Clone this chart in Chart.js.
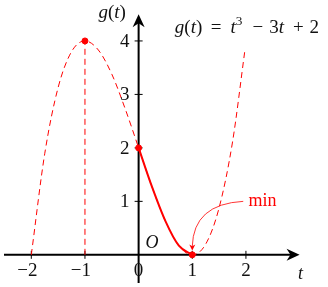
<!DOCTYPE html>
<html lang="en">
<head>
  <meta charset="UTF-8" />
  <title>g(t) = t^3 - 3t + 2</title>
  <script src="https://cdn.jsdelivr.net/npm/chart.js"></script>
  <style>
    html, body { margin: 0; padding: 0; background: #fff; }
    #wrap { width: 328px; height: 287px; }
  </style>
</head>
<body>
<div id="wrap"><canvas id="chart"></canvas></div>
<script>
  // curve samples (dashed part)
  const curveT = [-2, -1.75, -1.5, -1.25, -1, -0.75, -0.5, -0.25, 0, 0.25, 0.5, 0.75, 1, 1.25, 1.5, 1.75, 1.98];
  const curveG = [0, 1.89, 3.13, 3.8, 4, 3.83, 3.38, 2.73, 2, 1.27, 0.63, 0.17, 0, 0.2, 0.88, 2.11, 3.82];
  // solid part on [0, 1]
  const solidT = [0, 0.25, 0.5, 0.75, 1];
  const solidG = [2, 1.27, 0.63, 0.17, 0];
  // marked points
  const markT = [-1, 0, 1];
  const markG = [4, 2, 0];
  // dashed drop line at t = -1
  const dropT = [-1, -1];
  const dropG = [0, 4];
  // ticks
  const xTicks = [-2, -1, 0, 1, 2];
  const xTickLabels = ['\u22122', '\u22121', '0', '1', '2'];
  const yTicks = [1, 2, 3, 4];
  const yTickLabels = ['1', '2', '3', '4'];

  const red = '#ff0000';
  const serif = '"Liberation Serif", "DejaVu Serif", serif';

  const toPts = (xs, ys) => xs.map((x, i) => ({ x: x, y: ys[i] }));

  function richText(ctx, parts, x, y, size) {
    // draws a run of text pieces left to right, returns end x
    let cx = x;
    parts.forEach(p => {
      const s = p.sup ? size * 0.7 : size;
      ctx.font = (p.i ? 'italic ' : '') + s + 'px ' + serif;
      ctx.fillText(p.t, cx, p.sup ? y - size * 0.4 : y);
      cx += ctx.measureText(p.t).width + (p.gap || 0);
    });
    return cx;
  }

  function arrowHead(ctx, x, y, dir, len, half) {
    // dir in radians, stealth-like arrow
    ctx.save();
    ctx.translate(x, y);
    ctx.rotate(dir);
    ctx.beginPath();
    ctx.moveTo(0, 0);
    ctx.lineTo(-len, -half);
    ctx.lineTo(-len * 0.7, 0);
    ctx.lineTo(-len, half);
    ctx.closePath();
    ctx.fill();
    ctx.restore();
  }

  const axesPlugin = {
    id: 'axes',
    beforeDatasetsDraw(chart) {
      const ctx = chart.ctx;
      const xs = chart.scales.x, ys = chart.scales.y;
      const x0 = xs.getPixelForValue(0), y0 = ys.getPixelForValue(0);
      ctx.save();
      ctx.strokeStyle = '#000';
      ctx.fillStyle = '#000';
      ctx.lineWidth = 2;
      // x axis
      const xEnd = xs.getPixelForValue(3.0);
      ctx.beginPath();
      ctx.moveTo(xs.getPixelForValue(xs.min), y0);
      ctx.lineTo(xEnd - 4, y0);
      ctx.stroke();
      arrowHead(ctx, xEnd, y0, 0, 13, 6);
      // y axis
      const yEnd = ys.getPixelForValue(4.5);
      ctx.beginPath();
      ctx.moveTo(x0, ys.getPixelForValue(ys.min));
      ctx.lineTo(x0, yEnd + 4);
      ctx.stroke();
      arrowHead(ctx, x0, yEnd, -Math.PI / 2, 13, 6);
      // tick marks
      ctx.lineWidth = 1;
      xTicks.forEach(v => {
        if (v === 0) return;
        const px = xs.getPixelForValue(v);
        ctx.beginPath();
        ctx.moveTo(px, y0 - 4);
        ctx.lineTo(px, y0 + 4);
        ctx.stroke();
      });
      yTicks.forEach(v => {
        const py = ys.getPixelForValue(v);
        ctx.beginPath();
        ctx.moveTo(x0 - 4, py);
        ctx.lineTo(x0 + 4, py);
        ctx.stroke();
      });
      ctx.restore();
    },
    afterDatasetsDraw(chart) {
      const ctx = chart.ctx;
      const xs = chart.scales.x, ys = chart.scales.y;
      const x0 = xs.getPixelForValue(0), y0 = ys.getPixelForValue(0);
      ctx.save();
      ctx.fillStyle = '#111';
      ctx.textBaseline = 'middle';
      // tick labels
      ctx.font = '19px ' + serif;
      ctx.textAlign = 'center';
      xTicks.forEach((v, i) => {
        ctx.fillText(xTickLabels[i], xs.getPixelForValue(v) - (v < 0 ? 4 : 0), y0 + 16);
      });
      ctx.textAlign = 'right';
      yTicks.forEach((v, i) => {
        ctx.fillText(yTickLabels[i], x0 - 9, ys.getPixelForValue(v) + 1);
      });
      // axis names
      ctx.textAlign = 'left';
      ctx.textBaseline = 'alphabetic';
      richText(ctx, [{ t: 'O', i: true }], x0 + 7, y0 - 7, 18);
      richText(ctx, [{ t: 't', i: true }], xs.getPixelForValue(2.97), y0 + 24, 18);
      richText(ctx, [{ t: 'g', i: true }, { t: '(' }, { t: 't', i: true }, { t: ')' }],
        xs.getPixelForValue(-0.75), 18, 19);
      richText(ctx, [
        { t: 'g', i: true }, { t: '(' }, { t: 't', i: true }, { t: ')', gap: 8.5 },
        { t: '=', gap: 9 },
        { t: 't', i: true }, { t: '3', sup: true, gap: 10 },
        { t: '\u2212', gap: 6 }, { t: '3' }, { t: 't', i: true, gap: 9 },
        { t: '+', gap: 6 }, { t: '2' }
      ], xs.getPixelForValue(0.675), 33, 19);
      // min annotation
      ctx.fillStyle = red;
      ctx.font = '18px ' + serif;
      ctx.fillText('min', xs.getPixelForValue(2.05), ys.getPixelForValue(0.92));
      const sx = xs.getPixelForValue(1.95), sy = ys.getPixelForValue(1.0);
      const ex = xs.getPixelForValue(1.0), ey = ys.getPixelForValue(0.08);
      ctx.strokeStyle = red;
      ctx.lineWidth = 0.8;
      ctx.beginPath();
      ctx.moveTo(sx, sy);
      ctx.quadraticCurveTo(xs.getPixelForValue(1.02), ys.getPixelForValue(0.95), ex, ey - 4);
      ctx.stroke();
      arrowHead(ctx, ex, ey, Math.PI / 2, 6, 3);
      ctx.restore();
    }
  };

  new Chart(document.getElementById('chart'), {
    type: 'scatter',
    data: {
      datasets: [
        {
          data: toPts(curveT, curveG),
          showLine: true,
          borderColor: red,
          borderWidth: 1,
          borderDash: [6, 4],
          pointRadius: 0,
          cubicInterpolationMode: 'monotone'
        },
        {
          data: toPts(dropT, dropG),
          showLine: true,
          borderColor: red,
          borderWidth: 1,
          borderDash: [6, 4],
          pointRadius: 0
        },
        {
          data: toPts(solidT, solidG),
          showLine: true,
          borderColor: red,
          borderWidth: 2,
          pointRadius: 0,
          cubicInterpolationMode: 'monotone'
        },
        {
          data: toPts(markT, markG),
          showLine: false,
          backgroundColor: red,
          borderColor: red,
          pointRadius: 3,
          pointHoverRadius: 3
        }
      ]
    },
    options: {
      responsive: true,
      maintainAspectRatio: false,
      animation: false,
      layout: { padding: 0 },
      plugins: { legend: { display: false }, tooltip: { enabled: false } },
      scales: {
        x: { type: 'linear', min: -2.509, max: 3.455, display: false },
        y: { type: 'linear', min: -0.527, max: 4.691, display: false }
      }
    },
    plugins: [axesPlugin]
  });
</script>
</body>
</html>
